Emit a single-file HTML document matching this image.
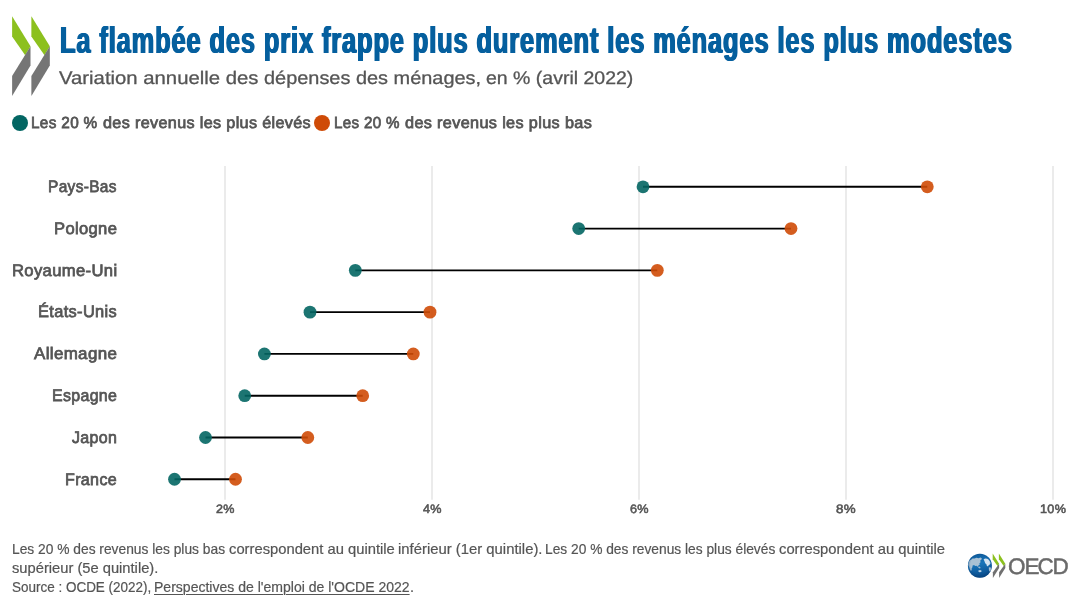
<!DOCTYPE html>
<html lang="fr">
<head>
<meta charset="utf-8">
<title>La flambée des prix frappe plus durement les ménages les plus modestes</title>
<style>
  html, body { margin: 0; padding: 0; background: #ffffff; }
  body { width: 1080px; height: 608px; overflow: hidden; font-family: "Liberation Sans", sans-serif; }
  #wrap { position: relative; width: 1080px; height: 608px; overflow: hidden; background: #ffffff; }
  h1, p, ul, li { margin: 0; padding: 0; font: inherit; list-style: none; }
  .layer { position: absolute; left: 0; top: 0; }
  .t { position: absolute; display: block; white-space: nowrap; line-height: 1; transform-origin: 0 0; text-decoration: none; }
  .title { font-size: 37.5px; font-weight: bold; color: #055f9e; letter-spacing: 1.3px;
           text-shadow: 1.05px 0 0 #055f9e, -1.05px 0 0 #055f9e; }
  .sub { font-size: 18.2px; color: #555555; -webkit-text-stroke: 0.3px #555555; text-rendering: geometricPrecision; }
  .leg { letter-spacing: 0.35px; font-size: 16px; color: #555555; -webkit-text-stroke: 0.75px #555555; text-rendering: geometricPrecision; }
  .yl  { letter-spacing: 0.35px; font-size: 16.7px; color: #555555; -webkit-text-stroke: 0.75px #555555; text-rendering: geometricPrecision; }
  .tk  { letter-spacing: 0.3px; font-size: 12.2px; color: #555555; -webkit-text-stroke: 0.55px #555555; text-rendering: geometricPrecision; }
  .ft  { font-size: 14.5px; color: #555555; -webkit-text-stroke: 0.2px #555555; }
  .link { text-decoration: underline; text-decoration-thickness: 1px; text-underline-offset: 1.5px; color: #555555; }
  .legend-dot { position: absolute; width: 16px; height: 16px; border-radius: 50%; top: 115px; }
</style>
</head>
<body>
<div id="wrap">
  <header>
    <svg class="layer brand" width="60" height="100" viewBox="0 0 60 100">
      <g>
        <polygon points="12.1,16.2 30.5,46.3 25.2,55.2 12.1,36.4" fill="#8cc01e"/>
        <polygon points="30.5,46.3 30.5,65.6 12.1,95.9 12.1,75.9" fill="#757575"/>
      </g>
      <g transform="translate(19.3,0)">
        <polygon points="12.1,16.2 30.5,46.3 25.2,55.2 12.1,36.4" fill="#8cc01e"/>
        <polygon points="30.5,46.3 30.5,65.6 12.1,95.9 12.1,75.9" fill="#757575"/>
      </g>
    </svg>
    <h1>
      <span id="t1" class="t title" style="left:60px;top:22px;transform:scaleX(0.6776)">La flambée des prix frappe plus durement les ménages les plus modestes</span>
    </h1>
    <p class="subtitle">
      <span id="s1" class="t sub" style="left:59px;top:69px;transform:scaleX(1.1165)">Variation annuelle des</span>
      <span id="s2" class="t sub" style="left:264px;top:69px;transform:scaleX(1.0952)">dépenses des ménages,</span>
      <span id="s3" class="t sub" style="left:486px;top:69px;transform:scaleX(1.0715)">en % (avril 2022)</span>
    </p>
  </header>
  <ul class="legend">
    <li><span class="legend-dot" style="left:12px;background:#036663"></span>
      <span id="l1a" class="t leg" style="left:31px;top:116px;transform:scaleX(0.9579)">Les 20 %</span>
      <span id="l1" class="t leg" style="left:103px;top:116px;transform:scaleX(1.0097)">des revenus les plus élevés</span>
    </li>
    <li><span class="legend-dot" style="left:314px;background:#cf4b07"></span>
      <span id="l2a" class="t leg" style="left:334px;top:116px;transform:scaleX(0.9467)">Les 20 %</span>
      <span id="l2" class="t leg" style="left:405px;top:116px;transform:scaleX(1.0141)">des revenus les plus bas</span>
    </li>
  </ul>
  <main>
    <svg class="layer chart" width="1080" height="608" viewBox="0 0 1080 608">
      <g class="grid" stroke="#e4e4e4" stroke-width="1.5">
        <line x1="225" y1="166" x2="225" y2="499.7"/>
        <line x1="432" y1="166" x2="432" y2="499.7"/>
        <line x1="639" y1="166" x2="639" y2="499.7"/>
        <line x1="846" y1="166" x2="846" y2="499.7"/>
        <line x1="1053" y1="166" x2="1053" y2="499.7"/>
      </g>
      <g class="ranges" stroke="#000000" stroke-width="1.9">
        <line x1="643.0" y1="186.80" x2="927.3" y2="186.80"/>
        <line x1="578.7" y1="228.58" x2="791.0" y2="228.58"/>
        <line x1="355.3" y1="270.36" x2="657.3" y2="270.36"/>
        <line x1="310.0" y1="312.14" x2="430.0" y2="312.14"/>
        <line x1="264.4" y1="353.92" x2="413.3" y2="353.92"/>
        <line x1="244.7" y1="395.70" x2="362.7" y2="395.70"/>
        <line x1="205.5" y1="437.48" x2="307.8" y2="437.48"/>
        <line x1="174.5" y1="479.26" x2="235.5" y2="479.26"/>
      </g>
      <g class="dots" fill-opacity="0.9">
        <circle cx="643.0" cy="186.80" r="6.4" fill="#036663"/><circle cx="927.3" cy="186.80" r="6.4" fill="#cf4b07"/>
        <circle cx="578.7" cy="228.58" r="6.4" fill="#036663"/><circle cx="791.0" cy="228.58" r="6.4" fill="#cf4b07"/>
        <circle cx="355.3" cy="270.36" r="6.4" fill="#036663"/><circle cx="657.3" cy="270.36" r="6.4" fill="#cf4b07"/>
        <circle cx="310.0" cy="312.14" r="6.4" fill="#036663"/><circle cx="430.0" cy="312.14" r="6.4" fill="#cf4b07"/>
        <circle cx="264.4" cy="353.92" r="6.4" fill="#036663"/><circle cx="413.3" cy="353.92" r="6.4" fill="#cf4b07"/>
        <circle cx="244.7" cy="395.70" r="6.4" fill="#036663"/><circle cx="362.7" cy="395.70" r="6.4" fill="#cf4b07"/>
        <circle cx="205.5" cy="437.48" r="6.4" fill="#036663"/><circle cx="307.8" cy="437.48" r="6.4" fill="#cf4b07"/>
        <circle cx="174.5" cy="479.26" r="6.4" fill="#036663"/><circle cx="235.5" cy="479.26" r="6.4" fill="#cf4b07"/>
      </g>
    </svg>
    <div class="y-axis">
      <span id="y0" class="t yl" style="left:48px;top:179px;transform:scaleX(0.9273)">Pays-Bas</span>
      <span id="y1" class="t yl" style="left:54px;top:221px;transform:scaleX(0.9929)">Pologne</span>
      <span id="y2" class="t yl" style="left:12px;top:263px;transform:scaleX(0.9962)">Royaume-Uni</span>
      <span id="y3" class="t yl" style="left:38px;top:304px;transform:scaleX(0.9828)">États-Unis</span>
      <span id="y4" class="t yl" style="left:34px;top:346px;transform:scaleX(1.0149)">Allemagne</span>
      <span id="y5" class="t yl" style="left:52px;top:388px;transform:scaleX(0.9546)">Espagne</span>
      <span id="y6" class="t yl" style="left:72px;top:430px;transform:scaleX(0.9576)">Japon</span>
      <span id="y7" class="t yl" style="left:65px;top:472px;transform:scaleX(0.9630)">France</span>
    </div>
    <div class="x-axis">
      <span id="k0" class="t tk" style="left:216px;top:503px;transform:scaleX(1.0280)">2%</span>
      <span id="k1" class="t tk" style="left:423px;top:503px;transform:scaleX(1.0331)">4%</span>
      <span id="k2" class="t tk" style="left:630px;top:503px;transform:scaleX(1.0379)">6%</span>
      <span id="k3" class="t tk" style="left:836px;top:503px;transform:scaleX(1.0947)">8%</span>
      <span id="k4" class="t tk" style="left:1040px;top:503px;transform:scaleX(1.0356)">10%</span>
    </div>
  </main>
  <footer>
    <p class="note">
      <span id="f1" class="t ft" style="left:12px;top:542px;transform:scaleX(0.9507)">Les 20 % des revenus les plus bas</span>
      <span id="f2" class="t ft" style="left:229px;top:542px;transform:scaleX(1.0179)">correspondent au quintile</span>
      <span id="f3" class="t ft" style="left:398px;top:542px;transform:scaleX(1.0243)">inférieur (1er quintile).</span>
      <span id="f4" class="t ft" style="left:545px;top:542px;transform:scaleX(0.9492)">Les 20 % des revenus les plus élevés</span>
      <span id="f5" class="t ft" style="left:779px;top:542px;transform:scaleX(1.0200)">correspondent au quintile</span>
      <span id="f6" class="t ft" style="left:12px;top:561px;transform:scaleX(1.0142)">supérieur (5e quintile).</span>
    </p>
    <p class="source">
      <span id="f7" class="t ft" style="left:12px;top:580px;transform:scaleX(0.9292)">Source : OCDE (2022),</span>
      <a id="f8" class="t ft link" style="left:154px;top:580px;transform:scaleX(0.9673)">Perspectives de l'emploi de l'OCDE 2022</a>
      <span id="f9" class="t ft" style="left:410px;top:580px;transform:scaleX(1.0000)">.</span>
    </p>
    <svg class="layer oecd" width="1080" height="608" viewBox="0 0 1080 608">
      <defs>
        <linearGradient id="gl" x1="0" y1="0" x2="0.25" y2="1">
          <stop offset="0" stop-color="#0d5796"/>
          <stop offset="0.5" stop-color="#1874b9"/>
          <stop offset="1" stop-color="#0a4f8f"/>
        </linearGradient>
        <radialGradient id="rim" cx="0.5" cy="0.45" r="0.55"><stop offset="0.7" stop-color="#06386e" stop-opacity="0"/><stop offset="1" stop-color="#06386e" stop-opacity="0.45"/></radialGradient>
        <clipPath id="gc"><circle cx="979.9" cy="565.8" r="12"/></clipPath>
        <filter id="soft" x="-20%" y="-20%" width="140%" height="140%"><feGaussianBlur stdDeviation="0.35"/></filter>
      </defs>
      <circle cx="979.9" cy="565.8" r="12" fill="url(#gl)"/>
      <g clip-path="url(#gc)" filter="url(#soft)">
        <path fill="#a9c1d4" d="M968.6 562.6 L969.6 560.6 L971.4 559.6 L972.4 558.4 L974.6 558.6 L976.4 557.8 L978.6 558.2 L980.4 557.6 L981.8 558.2 L981.4 559.8 L980.2 560.6 L980.6 562.2 L979.4 563.2 L979.8 564.6 L978.4 565.4 L977.6 566.8 L976.4 565.8 L975 566 L974.2 565 L972.6 565.6 L972.4 567.2 L971.6 568.6 L971.8 570.2 L970.6 570.8 L969.8 569 L969.2 567 L968.2 565 Z"/>
        <path fill="#d2e3f1" d="M983.6 559.2 L985.2 558.4 L987.2 558.8 L988.8 559.8 L990 561.4 L990.6 563.2 L989.8 564.6 L988.6 565.2 L988 566.6 L986.8 565.8 L986.4 564.2 L985.2 563.2 L984.6 561.4 Z"/>
        <path fill="#bfd5e6" d="M988.8 567.4 L990.4 567.2 L991.4 568.6 L991 570.6 L989.8 571.8 L989 570.4 Z"/>
        <path fill="#bcd2e4" d="M978.4 570.4 L980.2 570 L981.6 570.8 L981.2 572 L979.4 572.2 L978.4 571.4 Z"/>
        <path fill="#9fbad0" d="M978 566.8 L979.4 566.4 L980.6 567.4 L980 568.4 L978.6 568 Z"/>
      </g>
      <circle cx="979.9" cy="565.8" r="12" fill="url(#rim)"/>
      <g class="chevrons">
        <polygon points="992.7,553.5 999.1,563.7 997.5,566 992.7,559.3" fill="#8cc01e"/>
        <polygon points="999.1,563.7 999.1,568.1 992.9,578 992.9,572.2" fill="#707070"/>
        <polygon points="998.9,553.5 1005.3,563.7 1003.7,566 998.9,559.3" fill="#8cc01e"/>
        <polygon points="1005.3,563.7 1005.3,568.1 999.1,578 999.1,572.2" fill="#707070"/>
      </g>
      <text class="wordmark" x="1008.0 1024.4 1037.6 1052.6" y="573.55" font-family="'Liberation Sans', sans-serif" font-size="22.5" fill="#6a6a6a" stroke="#6a6a6a" stroke-width="0.45" stroke-linejoin="round" text-rendering="geometricPrecision">OECD</text>
    </svg>
  </footer>
</div>
</body>
</html>
